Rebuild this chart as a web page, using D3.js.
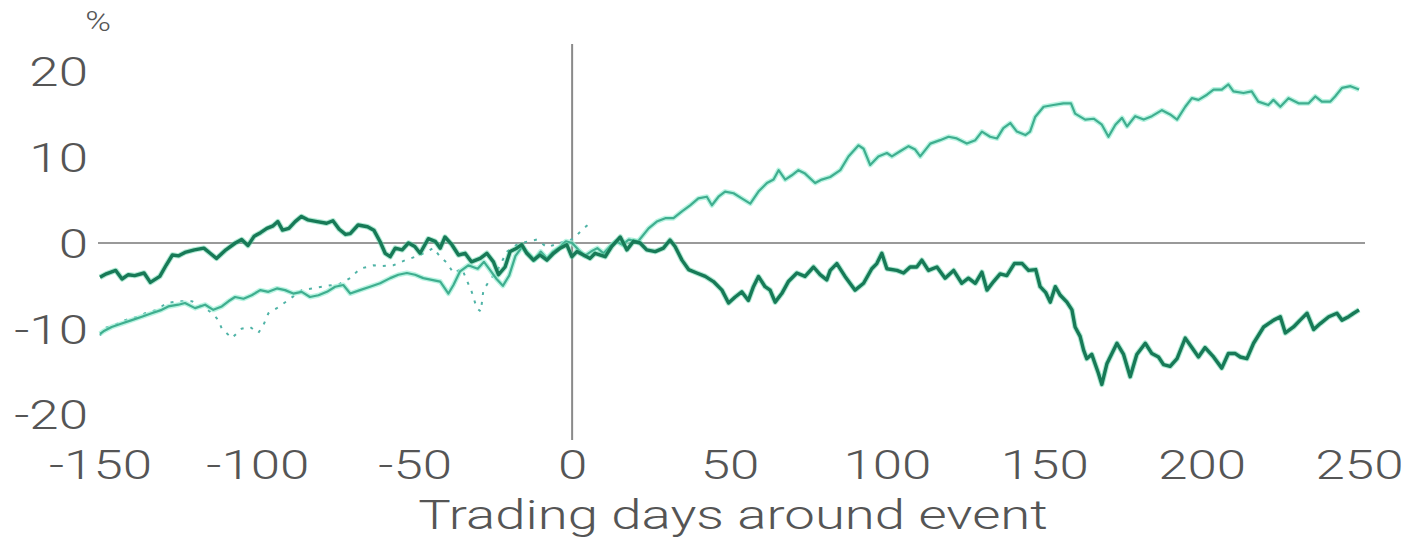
<!DOCTYPE html>
<html>
<head>
<meta charset="utf-8">
<script src="https://cdn.jsdelivr.net/npm/d3@7"></script>
<style>
  html, body { margin: 0; padding: 0; background: #fff; }
  svg { display: block; }
  text { font-family: Roboto, "Noto Sans", sans-serif; font-weight: 300; fill: #555; }
</style>
</head>
<body>
<svg id="chart" width="1410" height="545"></svg>
<script>
// ---- data ----
const xTicks = [-150, -100, -50, 0, 50, 100, 150, 200, 250];
const yTicks = [-20, -10, 0, 10, 20];
const xTitle = "Trading days around event";
const yUnit = "%";

const darkDays = [-150,-148,-145,-143,-141,-139,-136,-134,-131,-129,-127,-125,-123,-120,-117,-115,-113,-110,-107,-105,-103,-101,-99,-97,-95,-93.5,-92,-90,-88,-86,-84,-81,-78,-76,-74,-72,-70.5,-68,-65,-63,-61,-59.4,-57.8,-56.2,-54,-52,-50,-48.3,-45.7,-43.5,-41.9,-40.4,-38.2,-36.1,-34,-32,-29.2,-27.1,-25,-23.4,-21.3,-19.7,-17.6,-16,-14.4,-12.3,-10.2,-8,-5.9,-3.8,-1.7,-0.1,1.5,3.6,5.7,7.3,10.5,12.6,15.3,17.4,19.5,21.6,23.7,26.4,29,31.1,32.7,34.9,37,39.6,42.3,44.9,47.6,49.7,51.8,53.9,56,57.6,59.2,61.3,62.9,64.5,66.6,68.7,71.4,74,76.7,78.8,80.9,82,84.1,86.7,89.9,92.6,95.2,96.8,98.4,100,103.2,105.3,107.4,109.5,111.1,113.2,115.9,118.5,121.2,123.8,125.9,128.1,130.2,131.8,133.9,136,138.1,140.5,143,145,147.3,148.7,150.5,151.9,153.5,155.1,157.2,158.8,159.8,161.4,162.5,163.5,165.1,167.2,168.3,169.9,171.5,173.1,175.2,177.3,179.4,182.1,184.2,186.3,187.9,190,192.2,194.8,196.9,199,201.1,203.8,206.4,208.5,210.7,212.3,214.4,216.5,219.7,222.9,225,226.6,229.2,231.3,233.5,235.6,237.7,240.4,243,244.6,246.7,248.3,250];
const darkVals = [-4.0,-3.6,-3.2,-4.2,-3.7,-3.8,-3.5,-4.6,-3.9,-2.6,-1.4,-1.5,-1.1,-0.8,-0.6,-1.2,-1.8,-0.8,0.0,0.4,-0.3,0.8,1.2,1.7,2.0,2.5,1.5,1.7,2.5,3.1,2.7,2.5,2.3,2.6,1.6,1.0,1.1,2.1,1.9,1.5,0.15,-1.2,-1.6,-0.6,-0.8,0.0,-0.4,-1.2,0.5,0.2,-0.6,0.7,-0.2,-1.4,-1.2,-2.2,-1.8,-1.2,-2.2,-3.7,-2.8,-1.0,-0.6,-0.2,-1.2,-2.0,-1.4,-2.0,-1.2,-0.6,-0.2,-1.6,-1.0,-1.4,-1.8,-1.2,-1.6,-0.4,0.7,-0.8,0.2,0.0,-0.8,-1.0,-0.6,0.35,-0.4,-2.0,-3.1,-3.5,-3.9,-4.5,-5.5,-7.0,-6.3,-5.7,-6.7,-5.1,-3.9,-5.1,-5.5,-6.9,-5.9,-4.5,-3.5,-3.9,-2.8,-3.7,-4.3,-3.2,-2.4,-3.9,-5.5,-4.7,-3.0,-2.4,-1.2,-3.0,-3.2,-3.5,-2.8,-2.8,-2.0,-3.2,-2.8,-4.1,-3.2,-4.7,-4.1,-4.7,-3.4,-5.5,-4.5,-3.6,-3.8,-2.4,-2.4,-3.2,-3.1,-5.1,-5.8,-6.9,-5.1,-6.1,-6.9,-7.8,-9.8,-10.9,-12.5,-13.5,-13.0,-15.2,-16.5,-14.1,-12.9,-11.7,-13.0,-15.6,-13.0,-11.7,-12.9,-13.3,-14.2,-14.4,-13.5,-11.1,-12.2,-13.3,-12.2,-13.3,-14.6,-12.9,-12.9,-13.3,-13.5,-11.7,-9.8,-9.0,-8.6,-10.5,-9.8,-9.0,-8.2,-10.1,-9.4,-8.6,-8.2,-9.0,-8.6,-8.2,-7.8];

const lightDays = [-150,-148.9,-146.3,-143.1,-139.9,-136.7,-133.6,-130.4,-128.3,-125.1,-123,-119.8,-116.6,-114,-111.3,-109.2,-107.1,-104.4,-101.8,-99.1,-96.5,-93.8,-91.2,-88.6,-85.9,-83.3,-80.6,-77.9,-75.3,-72.7,-70.5,-67.4,-64.2,-61,-57.8,-55.2,-52.5,-49.9,-47.3,-44.6,-41.9,-39.3,-37.7,-35.6,-33,-30,-28,-26,-24,-22,-20,-18,-16,-14,-12,-10,-8,-6,-4,-2,0,2,4,6,8,10,12,14,16,18,21,24.3,26.9,29.6,32.2,34.9,37.5,40.1,42.8,44.4,46.5,48.6,51.3,53.9,56.6,59.2,61.9,64,65.6,67.7,69.8,71.9,74,77.2,79.3,82,85.2,87.8,91,92.6,94.7,97.3,100,101.6,104.2,106.9,109,110.6,113.8,116.9,119.6,122.2,125.4,128.1,130.2,132.8,135,137,139.2,141.3,144,145.5,147.1,149.8,152.9,156.1,158.5,159.8,163,165.7,168.3,170.4,172.6,174.7,176.3,178.9,181.6,184.2,187.4,190,192.2,194.8,196.9,199,201.7,203.8,206.4,208.5,210.1,213.3,215.9,218,221.2,222.8,225,227.6,230.8,234,236.1,238.2,240.9,242.4,244.6,247.3,250];
const lightVals = [-10.6,-10.3,-9.8,-9.4,-9.0,-8.6,-8.2,-7.8,-7.4,-7.2,-7.0,-7.6,-7.2,-7.8,-7.4,-6.8,-6.3,-6.5,-6.1,-5.5,-5.7,-5.3,-5.5,-5.9,-5.7,-6.3,-6.1,-5.7,-5.1,-4.9,-5.9,-5.5,-5.1,-4.7,-4.1,-3.7,-3.5,-3.7,-4.1,-4.3,-4.5,-5.9,-4.9,-3.3,-2.6,-3.0,-2.2,-3.2,-4.2,-5.0,-3.8,-1.5,-0.5,-1.2,-2.0,-1.0,-1.8,-1.0,-0.5,0.2,0.0,-0.8,-1.5,-1.0,-0.6,-1.2,-0.4,0.2,-0.2,0.4,0.2,1.7,2.5,2.9,2.9,3.7,4.4,5.2,5.4,4.4,5.4,6.0,5.8,5.2,4.6,6.0,7.0,7.4,8.5,7.4,7.9,8.5,8.1,7.0,7.4,7.7,8.5,10.1,11.4,11.0,9.1,10.1,10.5,10.1,10.7,11.3,10.9,10.1,11.6,12.0,12.4,12.2,11.6,12.0,13.0,12.4,12.2,13.4,14.0,13.0,12.6,13.0,14.7,15.9,16.1,16.3,16.3,15.1,14.4,14.5,13.8,12.4,13.8,14.6,13.6,14.8,14.4,14.8,15.5,15.0,14.4,15.9,16.9,16.7,17.3,17.9,17.9,18.5,17.7,17.5,17.7,16.5,16.1,16.7,15.9,16.9,16.3,16.3,17.1,16.5,16.5,17.1,18.1,18.3,17.9];

const dotDays = [-150,-148.4,-145,-142,-138,-135.7,-132,-128.8,-124.6,-120.8,-117,-114,-112.4,-111.3,-108.1,-105,-102.3,-99.7,-98.1,-96.5,-93.8,-90.7,-85.9,-82.7,-78,-74,-70.5,-67.4,-63.1,-60.5,-56.8,-53,-49,-46,-44.1,-41.9,-39.8,-37.7,-35,-31.9,-30.3,-29,-28.2,-26.1,-23.9,-20.7,-17.6,-14,-11.2,-8,-4,-1,0.4,3.6,5];
const dotVals = [-10.8,-9.9,-9.5,-9.0,-8.6,-8.2,-7.8,-7.0,-6.8,-6.8,-7.5,-8.3,-9.0,-10.0,-11.1,-10.0,-9.8,-10.5,-9.6,-8.2,-7.6,-6.8,-5.5,-5.3,-5.0,-4.8,-4.1,-3.0,-2.6,-2.7,-2.6,-2.0,-1.5,-1.0,-0.6,-1.6,-2.3,-3.5,-3.0,-5.7,-7.6,-8.0,-5.5,-4.3,-3.3,-1.0,-0.2,0.2,0.4,-0.5,0.0,0.3,0.5,1.7,2.1];

// ---- chart ----
const svg = d3.select("#chart");
const x = d3.scaleLinear().domain([-150, 250]).range([100, 1359]);
const y = d3.scaleLinear().domain([-20, 20]).range([414.4, 71.6]);
const SX = 1.29; // horizontal stretch of glyphs seen in the reference
const FS = "41px";

// zero line
svg.append("line")
  .attr("x1", 98).attr("x2", 1365)
  .attr("y1", y(0)).attr("y2", y(0))
  .attr("stroke", "#999").attr("stroke-width", 2);
// event line
svg.append("line")
  .attr("x1", x(0)).attr("x2", x(0))
  .attr("y1", 44).attr("y2", 440)
  .attr("stroke", "#8a8a8a").attr("stroke-width", 2);

const line = d3.line().x(d => x(d[0])).y(d => y(d[1])).curve(d3.curveLinear);
const dark = darkDays.map((d, i) => [d, darkVals[i]]);
const light = lightDays.map((d, i) => [d, lightVals[i]]);
const dots = dotDays.map((d, i) => [d, dotVals[i]]);

// dotted series
svg.append("path").datum(dots).attr("d", line)
  .attr("fill", "none").attr("stroke", "#4fb3a6").attr("stroke-width", 2)
  .attr("stroke-dasharray", "3,7");

// light series (halo + core)
svg.append("path").datum(light).attr("d", line)
  .attr("fill", "none").attr("stroke", "#9cf0d6").attr("stroke-width", 5)
  .attr("stroke-linejoin", "round").attr("opacity", 0.7);
svg.append("path").datum(light).attr("d", line)
  .attr("fill", "none").attr("stroke", "#3fae8f").attr("stroke-width", 2.2)
  .attr("stroke-linejoin", "round");

// dark series
svg.append("path").datum(dark).attr("d", line)
  .attr("fill", "none").attr("stroke", "#5fd3a8").attr("stroke-width", 5.5)
  .attr("stroke-linejoin", "round").attr("opacity", 0.5);
svg.append("path").datum(dark).attr("d", line)
  .attr("fill", "none").attr("stroke", "#177a57").attr("stroke-width", 3.4)
  .attr("stroke-linejoin", "round");

// x axis
const xAxis = svg.append("g")
  .attr("transform", `translate(0,${465})`)
  .call(d3.axisBottom(x).tickValues(xTicks).tickSize(0).tickPadding(0)
        .tickFormat(d => d < 0 ? "-" + Math.abs(d) : String(d)));
xAxis.select(".domain").remove();
xAxis.selectAll("text")
  .attr("y", 0).attr("dy", "0.35em")
  .attr("transform", `scale(${SX},1)`)
  .style("font-size", FS).style("font-family", "Roboto, sans-serif")
  .style("font-weight", 300).attr("fill", "#555");

// y axis
const yAxis = svg.append("g")
  .attr("transform", `translate(88,0)`)
  .call(d3.axisLeft(y).tickValues(yTicks).tickSize(0).tickPadding(0)
        .tickFormat(d => d < 0 ? "-" + Math.abs(d) : String(d)));
yAxis.select(".domain").remove();
yAxis.selectAll("text")
  .attr("x", 0).attr("dy", "0.35em")
  .attr("transform", `scale(${SX},1)`)
  .style("font-size", FS).style("font-family", "Roboto, sans-serif")
  .style("font-weight", 300).attr("fill", "#555");

// unit
svg.append("text")
  .attr("transform", `translate(98,22) scale(${SX},1)`)
  .attr("text-anchor", "middle").attr("dy", "0.35em")
  .style("font-size", "27px").text(yUnit);

// x title
svg.append("text")
  .attr("transform", `translate(733,515) scale(1.33,1)`)
  .attr("text-anchor", "middle").attr("dy", "0.35em")
  .style("font-size", FS).text(xTitle);
</script>
</body>
</html>
